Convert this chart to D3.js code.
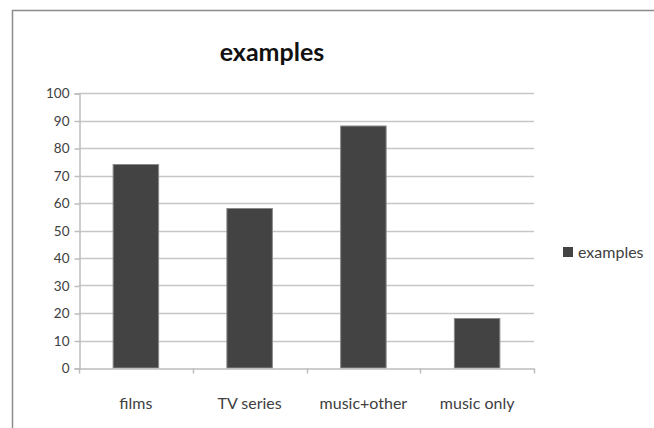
<!DOCTYPE html>
<html>
<head>
<meta charset="utf-8">
<script src="https://cdn.jsdelivr.net/npm/d3@7/dist/d3.min.js"></script>
<style>
  html, body { margin: 0; padding: 0; background: #fff; }
  svg { display: block; }
  text { font-family: Lato, "Open Sans", sans-serif; }
</style>
</head>
<body>
<svg id="chart" width="654" height="428"></svg>
<script>
const categories = ["films", "TV series", "music+other", "music only"];
const values = [74, 58, 88, 18];
const yTicks = [0, 10, 20, 30, 40, 50, 60, 70, 80, 90, 100];
const seriesName = "examples";
const titleText = "examples";

const svg = d3.select("#chart");
const W = 654, H = 428;

// outer chart border
svg.append("rect").attr("x", 12.5).attr("y", 10.5).attr("width", W + 10).attr("height", H + 10)
  .attr("fill", "#fff").attr("stroke", "#8c8c8c").attr("stroke-width", 1.5);

const plot = { left: 79, right: 534, top: 93, bottom: 368 };

const x = d3.scaleBand().domain(categories).range([plot.left, plot.right]).padding(0);
const y = d3.scaleLinear().domain([0, 100]).range([plot.bottom, plot.top]);

// gridlines
svg.append("g").selectAll("line").data(yTicks.filter(d => d > 0)).join("line")
  .attr("x1", plot.left).attr("x2", plot.right)
  .attr("y1", d => Math.round(y(d)) + 0.5).attr("y2", d => Math.round(y(d)) + 0.5)
  .attr("stroke", "#c6c6c6").attr("stroke-width", 1.5);

// y axis
const yAxis = d3.axisLeft(y).tickValues(yTicks).tickSize(5).tickPadding(5);
const gy = svg.append("g").attr("transform", `translate(${plot.left + 0.5},0.5)`).call(yAxis);
gy.select(".domain").attr("stroke", "#bdbdbd").attr("stroke-width", 1.5);
gy.selectAll(".tick line").attr("stroke", "#bdbdbd").attr("stroke-width", 1.5);
gy.selectAll(".tick text").attr("fill", "#404040").style("font-size", "13.5px").style("font-family", "Lato, sans-serif");

// bars
const barW = x.bandwidth() * 0.4;
svg.append("g").selectAll("rect").data(categories).join("rect")
  .attr("x", (d) => x(d) + (x.bandwidth() - barW) / 2)
  .attr("y", (d, i) => y(values[i]))
  .attr("width", barW)
  .attr("height", (d, i) => y(0) - y(values[i]))
  .attr("fill", "#434343").attr("stroke", "#8a8a8a").attr("stroke-width", 1);

// x axis
const xAxis = d3.axisBottom(x).tickSize(0).tickPadding(29);
const gx = svg.append("g").attr("transform", `translate(0,${plot.bottom + 0.5})`).call(xAxis);
gx.select(".domain").attr("stroke", "#bdbdbd").attr("stroke-width", 1.5);
gx.selectAll(".tick text").attr("fill", "#404040").style("font-size", "16px").style("font-family", "Lato, sans-serif");
// boundary ticks
const bounds = categories.map(c => x(c)).concat([plot.right]);
gx.append("g").selectAll("line").data(bounds).join("line")
  .attr("x1", d => Math.round(d) + 0.5).attr("x2", d => Math.round(d) + 0.5)
  .attr("y1", 0).attr("y2", 5)
  .attr("stroke", "#bdbdbd").attr("stroke-width", 1.5);

// title
svg.append("text").attr("x", 272).attr("y", 61).attr("text-anchor", "middle")
  .style("font-size", "25px").style("font-weight", "bold").attr("fill", "#111")
  .text(titleText);

// legend
const lg = svg.append("g").attr("transform", "translate(563,247)");
lg.append("rect").attr("width", 10).attr("height", 10).attr("fill", "#434343");
lg.append("text").attr("x", 15).attr("y", 10.5).style("font-size", "16px").attr("fill", "#404040").text(seriesName);
</script>
</body>
</html>
